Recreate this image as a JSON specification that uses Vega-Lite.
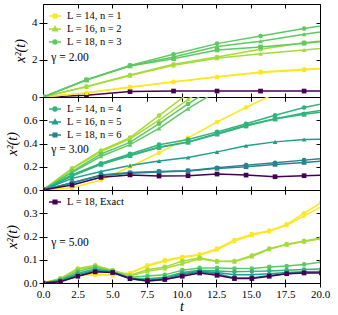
{
"$schema":"https://vega.github.io/schema/vega-lite/v6.json",
"padding":{"left":5,"top":3,"right":5,"bottom":0},
"bounds":"flush",
"datasets":{
"ser":[
{"s":"n1a","c":"L = 14, n = 1","L":"14"},{"s":"n1b","c":"L = 14, n = 1","L":"16"},
{"s":"n2a","c":"L = 16, n = 2","L":"14"},{"s":"n2b","c":"L = 16, n = 2","L":"16"},
{"s":"n3a","c":"L = 18, n = 3","L":"14"},{"s":"n3b","c":"L = 18, n = 3","L":"16"},{"s":"n3c","c":"L = 18, n = 3","L":"18"},
{"s":"n4a","c":"L = 14, n = 4","L":"14"},{"s":"n4b","c":"L = 14, n = 4","L":"16"},{"s":"n4c","c":"L = 14, n = 4","L":"18"},
{"s":"n5a","c":"L = 16, n = 5","L":"16"},
{"s":"n6a","c":"L = 18, n = 6","L":"14"},{"s":"n6b","c":"L = 18, n = 6","L":"18"},
{"s":"ex","c":"L = 18, Exact","L":"18"}],
"pts":[
{"g":2,"s":"ex","t":0,"v":0},{"g":2,"s":"ex","t":3.142,"v":0.09},{"g":2,"s":"ex","t":6.283,"v":0.29},{"g":2,"s":"ex","t":9.425,"v":0.32},{"g":2,"s":"ex","t":12.566,"v":0.32},{"g":2,"s":"ex","t":15.708,"v":0.32},{"g":2,"s":"ex","t":18.85,"v":0.32},{"g":2,"s":"ex","t":21.991,"v":0.33},
{"g":2,"s":"n1a","t":0,"v":0},{"g":2,"s":"n1a","t":3.142,"v":0.23},{"g":2,"s":"n1a","t":6.283,"v":0.54},{"g":2,"s":"n1a","t":9.425,"v":0.82},{"g":2,"s":"n1a","t":12.566,"v":1.09},{"g":2,"s":"n1a","t":15.708,"v":1.35},{"g":2,"s":"n1a","t":18.85,"v":1.49},{"g":2,"s":"n1a","t":21.991,"v":1.65},
{"g":2,"s":"n1b","t":0,"v":0},{"g":2,"s":"n1b","t":3.142,"v":0.22},{"g":2,"s":"n1b","t":6.283,"v":0.52},{"g":2,"s":"n1b","t":9.425,"v":0.8},{"g":2,"s":"n1b","t":12.566,"v":1.07},{"g":2,"s":"n1b","t":15.708,"v":1.32},{"g":2,"s":"n1b","t":18.85,"v":1.45},{"g":2,"s":"n1b","t":21.991,"v":1.62},
{"g":2,"s":"n2a","t":0,"v":0},{"g":2,"s":"n2a","t":3.142,"v":0.56},{"g":2,"s":"n2a","t":6.283,"v":1.18},{"g":2,"s":"n2a","t":9.425,"v":1.76},{"g":2,"s":"n2a","t":12.566,"v":2.15},{"g":2,"s":"n2a","t":15.708,"v":2.57},{"g":2,"s":"n2a","t":18.85,"v":2.92},{"g":2,"s":"n2a","t":21.991,"v":3.15},
{"g":2,"s":"n2b","t":0,"v":0},{"g":2,"s":"n2b","t":3.142,"v":0.55},{"g":2,"s":"n2b","t":6.283,"v":1.15},{"g":2,"s":"n2b","t":9.425,"v":1.7},{"g":2,"s":"n2b","t":12.566,"v":2.08},{"g":2,"s":"n2b","t":15.708,"v":2.33},{"g":2,"s":"n2b","t":18.85,"v":2.53},{"g":2,"s":"n2b","t":21.991,"v":2.75},
{"g":2,"s":"n3a","t":0,"v":0},{"g":2,"s":"n3a","t":3.142,"v":0.93},{"g":2,"s":"n3a","t":6.283,"v":1.7},{"g":2,"s":"n3a","t":9.425,"v":2.3},{"g":2,"s":"n3a","t":12.566,"v":2.87},{"g":2,"s":"n3a","t":15.708,"v":3.28},{"g":2,"s":"n3a","t":18.85,"v":3.68},{"g":2,"s":"n3a","t":21.991,"v":4.05},
{"g":2,"s":"n3b","t":0,"v":0},{"g":2,"s":"n3b","t":3.142,"v":0.92},{"g":2,"s":"n3b","t":6.283,"v":1.68},{"g":2,"s":"n3b","t":9.425,"v":2.15},{"g":2,"s":"n3b","t":12.566,"v":2.71},{"g":2,"s":"n3b","t":15.708,"v":3.0},{"g":2,"s":"n3b","t":18.85,"v":3.37},{"g":2,"s":"n3b","t":21.991,"v":3.7},
{"g":2,"s":"n3c","t":0,"v":0},{"g":2,"s":"n3c","t":3.142,"v":0.91},{"g":2,"s":"n3c","t":6.283,"v":1.67},{"g":2,"s":"n3c","t":9.425,"v":2.06},{"g":2,"s":"n3c","t":12.566,"v":2.53},{"g":2,"s":"n3c","t":15.708,"v":2.69},{"g":2,"s":"n3c","t":18.85,"v":2.89},{"g":2,"s":"n3c","t":21.991,"v":3.1},

{"g":3,"s":"n1a","t":0,"v":0},{"g":3,"s":"n1a","t":2.094,"v":0.02},{"g":3,"s":"n1a","t":4.189,"v":0.086},{"g":3,"s":"n1a","t":6.283,"v":0.2},{"g":3,"s":"n1a","t":8.378,"v":0.32},{"g":3,"s":"n1a","t":10.472,"v":0.448},{"g":3,"s":"n1a","t":12.566,"v":0.585},{"g":3,"s":"n1a","t":14.661,"v":0.71},{"g":3,"s":"n1a","t":16.755,"v":0.83},{"g":3,"s":"n1a","t":18.85,"v":0.95},
{"g":3,"s":"n2a","t":0,"v":0},{"g":3,"s":"n2a","t":2.094,"v":0.186},{"g":3,"s":"n2a","t":4.189,"v":0.34},{"g":3,"s":"n2a","t":6.283,"v":0.45},{"g":3,"s":"n2a","t":8.378,"v":0.64},{"g":3,"s":"n2a","t":10.472,"v":0.83},{"g":3,"s":"n2a","t":12.566,"v":1.0},
{"g":3,"s":"n2b","t":0,"v":0},{"g":3,"s":"n2b","t":2.094,"v":0.18},{"g":3,"s":"n2b","t":4.189,"v":0.33},{"g":3,"s":"n2b","t":6.283,"v":0.44},{"g":3,"s":"n2b","t":8.378,"v":0.6},{"g":3,"s":"n2b","t":10.472,"v":0.78},{"g":3,"s":"n2b","t":12.566,"v":0.95},
{"g":3,"s":"n3a","t":0,"v":0},{"g":3,"s":"n3a","t":2.094,"v":0.158},{"g":3,"s":"n3a","t":4.189,"v":0.31},{"g":3,"s":"n3a","t":6.283,"v":0.41},{"g":3,"s":"n3a","t":8.378,"v":0.57},{"g":3,"s":"n3a","t":10.472,"v":0.74},{"g":3,"s":"n3a","t":12.566,"v":0.9},
{"g":3,"s":"n3b","t":0,"v":0},{"g":3,"s":"n3b","t":2.094,"v":0.15},{"g":3,"s":"n3b","t":4.189,"v":0.29},{"g":3,"s":"n3b","t":6.283,"v":0.39},{"g":3,"s":"n3b","t":8.378,"v":0.53},{"g":3,"s":"n3b","t":10.472,"v":0.7},{"g":3,"s":"n3b","t":12.566,"v":0.85},
{"g":3,"s":"n4a","t":0,"v":0},{"g":3,"s":"n4a","t":2.094,"v":0.13},{"g":3,"s":"n4a","t":4.189,"v":0.23},{"g":3,"s":"n4a","t":6.283,"v":0.31},{"g":3,"s":"n4a","t":8.378,"v":0.39},{"g":3,"s":"n4a","t":10.472,"v":0.434},{"g":3,"s":"n4a","t":12.566,"v":0.5},{"g":3,"s":"n4a","t":14.661,"v":0.57},{"g":3,"s":"n4a","t":16.755,"v":0.643},{"g":3,"s":"n4a","t":18.85,"v":0.709},{"g":3,"s":"n4a","t":20.944,"v":0.76},
{"g":3,"s":"n4b","t":0,"v":0},{"g":3,"s":"n4b","t":2.094,"v":0.125},{"g":3,"s":"n4b","t":4.189,"v":0.225},{"g":3,"s":"n4b","t":6.283,"v":0.3},{"g":3,"s":"n4b","t":8.378,"v":0.37},{"g":3,"s":"n4b","t":10.472,"v":0.414},{"g":3,"s":"n4b","t":12.566,"v":0.486},{"g":3,"s":"n4b","t":14.661,"v":0.557},{"g":3,"s":"n4b","t":16.755,"v":0.614},{"g":3,"s":"n4b","t":18.85,"v":0.663},{"g":3,"s":"n4b","t":20.944,"v":0.7},
{"g":3,"s":"n4c","t":0,"v":0},{"g":3,"s":"n4c","t":2.094,"v":0.12},{"g":3,"s":"n4c","t":4.189,"v":0.22},{"g":3,"s":"n4c","t":6.283,"v":0.295},{"g":3,"s":"n4c","t":8.378,"v":0.365},{"g":3,"s":"n4c","t":10.472,"v":0.41},{"g":3,"s":"n4c","t":12.566,"v":0.48},{"g":3,"s":"n4c","t":14.661,"v":0.55},{"g":3,"s":"n4c","t":16.755,"v":0.61},{"g":3,"s":"n4c","t":18.85,"v":0.651},{"g":3,"s":"n4c","t":20.944,"v":0.685},
{"g":3,"s":"n5a","t":0,"v":0},{"g":3,"s":"n5a","t":2.094,"v":0.1},{"g":3,"s":"n5a","t":4.189,"v":0.16},{"g":3,"s":"n5a","t":6.283,"v":0.21},{"g":3,"s":"n5a","t":8.378,"v":0.25},{"g":3,"s":"n5a","t":10.472,"v":0.28},{"g":3,"s":"n5a","t":12.566,"v":0.328},{"g":3,"s":"n5a","t":14.661,"v":0.38},{"g":3,"s":"n5a","t":16.755,"v":0.414},{"g":3,"s":"n5a","t":18.85,"v":0.434},{"g":3,"s":"n5a","t":20.944,"v":0.44},
{"g":3,"s":"n6a","t":0,"v":0},{"g":3,"s":"n6a","t":2.094,"v":0.063},{"g":3,"s":"n6a","t":4.189,"v":0.13},{"g":3,"s":"n6a","t":6.283,"v":0.15},{"g":3,"s":"n6a","t":8.378,"v":0.16},{"g":3,"s":"n6a","t":10.472,"v":0.166},{"g":3,"s":"n6a","t":12.566,"v":0.191},{"g":3,"s":"n6a","t":14.661,"v":0.214},{"g":3,"s":"n6a","t":16.755,"v":0.234},{"g":3,"s":"n6a","t":18.85,"v":0.257},{"g":3,"s":"n6a","t":20.944,"v":0.28},
{"g":3,"s":"n6b","t":0,"v":0},{"g":3,"s":"n6b","t":2.094,"v":0.06},{"g":3,"s":"n6b","t":4.189,"v":0.125},{"g":3,"s":"n6b","t":6.283,"v":0.145},{"g":3,"s":"n6b","t":8.378,"v":0.155},{"g":3,"s":"n6b","t":10.472,"v":0.163},{"g":3,"s":"n6b","t":12.566,"v":0.186},{"g":3,"s":"n6b","t":14.661,"v":0.2},{"g":3,"s":"n6b","t":16.755,"v":0.22},{"g":3,"s":"n6b","t":18.85,"v":0.237},{"g":3,"s":"n6b","t":20.944,"v":0.255},
{"g":3,"s":"ex","t":0,"v":0},{"g":3,"s":"ex","t":2.094,"v":0.043},{"g":3,"s":"ex","t":4.189,"v":0.109},{"g":3,"s":"ex","t":6.283,"v":0.13},{"g":3,"s":"ex","t":8.378,"v":0.12},{"g":3,"s":"ex","t":10.472,"v":0.123},{"g":3,"s":"ex","t":12.566,"v":0.137},{"g":3,"s":"ex","t":14.661,"v":0.128},{"g":3,"s":"ex","t":16.755,"v":0.114},{"g":3,"s":"ex","t":18.85,"v":0.123},{"g":3,"s":"ex","t":20.944,"v":0.13},

{"g":5,"s":"n1a","t":0,"v":0},{"g":5,"s":"n1a","t":1.257,"v":0.01},{"g":5,"s":"n1a","t":2.513,"v":0.035},{"g":5,"s":"n1a","t":3.77,"v":0.038},{"g":5,"s":"n1a","t":5.027,"v":0.035},{"g":5,"s":"n1a","t":6.283,"v":0.043},{"g":5,"s":"n1a","t":7.54,"v":0.076},{"g":5,"s":"n1a","t":8.796,"v":0.098},{"g":5,"s":"n1a","t":10.053,"v":0.113},{"g":5,"s":"n1a","t":11.31,"v":0.123},{"g":5,"s":"n1a","t":12.566,"v":0.148},{"g":5,"s":"n1a","t":13.823,"v":0.185},{"g":5,"s":"n1a","t":15.08,"v":0.21},{"g":5,"s":"n1a","t":16.336,"v":0.225},{"g":5,"s":"n1a","t":17.593,"v":0.252},{"g":5,"s":"n1a","t":18.85,"v":0.3},{"g":5,"s":"n1a","t":20.106,"v":0.347},
{"g":5,"s":"n1b","t":0,"v":0},{"g":5,"s":"n1b","t":1.257,"v":0.01},{"g":5,"s":"n1b","t":2.513,"v":0.033},{"g":5,"s":"n1b","t":3.77,"v":0.036},{"g":5,"s":"n1b","t":5.027,"v":0.034},{"g":5,"s":"n1b","t":6.283,"v":0.042},{"g":5,"s":"n1b","t":7.54,"v":0.072},{"g":5,"s":"n1b","t":8.796,"v":0.094},{"g":5,"s":"n1b","t":10.053,"v":0.11},{"g":5,"s":"n1b","t":11.31,"v":0.12},{"g":5,"s":"n1b","t":12.566,"v":0.143},{"g":5,"s":"n1b","t":13.823,"v":0.18},{"g":5,"s":"n1b","t":15.08,"v":0.205},{"g":5,"s":"n1b","t":16.336,"v":0.222},{"g":5,"s":"n1b","t":17.593,"v":0.248},{"g":5,"s":"n1b","t":18.85,"v":0.289},{"g":5,"s":"n1b","t":20.106,"v":0.328},
{"g":5,"s":"n2a","t":0,"v":0},{"g":5,"s":"n2a","t":1.257,"v":0.02},{"g":5,"s":"n2a","t":2.513,"v":0.062},{"g":5,"s":"n2a","t":3.77,"v":0.076},{"g":5,"s":"n2a","t":5.027,"v":0.055},{"g":5,"s":"n2a","t":6.283,"v":0.033},{"g":5,"s":"n2a","t":7.54,"v":0.057},{"g":5,"s":"n2a","t":8.796,"v":0.069},{"g":5,"s":"n2a","t":10.053,"v":0.094},{"g":5,"s":"n2a","t":11.31,"v":0.109},{"g":5,"s":"n2a","t":12.566,"v":0.094},{"g":5,"s":"n2a","t":13.823,"v":0.094},{"g":5,"s":"n2a","t":15.08,"v":0.118},{"g":5,"s":"n2a","t":16.336,"v":0.148},{"g":5,"s":"n2a","t":17.593,"v":0.167},{"g":5,"s":"n2a","t":18.85,"v":0.181},{"g":5,"s":"n2a","t":20.106,"v":0.195},
{"g":5,"s":"n2b","t":0,"v":0},{"g":5,"s":"n2b","t":1.257,"v":0.018},{"g":5,"s":"n2b","t":2.513,"v":0.058},{"g":5,"s":"n2b","t":3.77,"v":0.072},{"g":5,"s":"n2b","t":5.027,"v":0.053},{"g":5,"s":"n2b","t":6.283,"v":0.03},{"g":5,"s":"n2b","t":7.54,"v":0.05},{"g":5,"s":"n2b","t":8.796,"v":0.062},{"g":5,"s":"n2b","t":10.053,"v":0.083},{"g":5,"s":"n2b","t":11.31,"v":0.104},{"g":5,"s":"n2b","t":12.566,"v":0.092},{"g":5,"s":"n2b","t":13.823,"v":0.092},{"g":5,"s":"n2b","t":15.08,"v":0.114},{"g":5,"s":"n2b","t":16.336,"v":0.145},{"g":5,"s":"n2b","t":17.593,"v":0.165},{"g":5,"s":"n2b","t":18.85,"v":0.178},{"g":5,"s":"n2b","t":20.106,"v":0.19},
{"g":5,"s":"n3a","t":0,"v":0},{"g":5,"s":"n3a","t":1.257,"v":0.015},{"g":5,"s":"n3a","t":2.513,"v":0.05},{"g":5,"s":"n3a","t":3.77,"v":0.068},{"g":5,"s":"n3a","t":5.027,"v":0.05},{"g":5,"s":"n3a","t":6.283,"v":0.025},{"g":5,"s":"n3a","t":7.54,"v":0.03},{"g":5,"s":"n3a","t":8.796,"v":0.035},{"g":5,"s":"n3a","t":10.053,"v":0.055},{"g":5,"s":"n3a","t":11.31,"v":0.065},{"g":5,"s":"n3a","t":12.566,"v":0.065},{"g":5,"s":"n3a","t":13.823,"v":0.062},{"g":5,"s":"n3a","t":15.08,"v":0.062},{"g":5,"s":"n3a","t":16.336,"v":0.069},{"g":5,"s":"n3a","t":17.593,"v":0.073},{"g":5,"s":"n3a","t":18.85,"v":0.08},{"g":5,"s":"n3a","t":20.106,"v":0.09},
{"g":5,"s":"n4a","t":0,"v":0},{"g":5,"s":"n4a","t":1.257,"v":0.012},{"g":5,"s":"n4a","t":2.513,"v":0.042},{"g":5,"s":"n4a","t":3.77,"v":0.06},{"g":5,"s":"n4a","t":5.027,"v":0.048},{"g":5,"s":"n4a","t":6.283,"v":0.02},{"g":5,"s":"n4a","t":7.54,"v":0.018},{"g":5,"s":"n4a","t":8.796,"v":0.025},{"g":5,"s":"n4a","t":10.053,"v":0.045},{"g":5,"s":"n4a","t":11.31,"v":0.055},{"g":5,"s":"n4a","t":12.566,"v":0.052},{"g":5,"s":"n4a","t":13.823,"v":0.048},{"g":5,"s":"n4a","t":15.08,"v":0.05},{"g":5,"s":"n4a","t":16.336,"v":0.052},{"g":5,"s":"n4a","t":17.593,"v":0.055},{"g":5,"s":"n4a","t":18.85,"v":0.058},{"g":5,"s":"n4a","t":20.106,"v":0.06},
{"g":5,"s":"n5a","t":0,"v":0},{"g":5,"s":"n5a","t":1.257,"v":0.01},{"g":5,"s":"n5a","t":2.513,"v":0.036},{"g":5,"s":"n5a","t":3.77,"v":0.055},{"g":5,"s":"n5a","t":5.027,"v":0.047},{"g":5,"s":"n5a","t":6.283,"v":0.018},{"g":5,"s":"n5a","t":7.54,"v":0.012},{"g":5,"s":"n5a","t":8.796,"v":0.02},{"g":5,"s":"n5a","t":10.053,"v":0.04},{"g":5,"s":"n5a","t":11.31,"v":0.05},{"g":5,"s":"n5a","t":12.566,"v":0.045},{"g":5,"s":"n5a","t":13.823,"v":0.035},{"g":5,"s":"n5a","t":15.08,"v":0.035},{"g":5,"s":"n5a","t":16.336,"v":0.04},{"g":5,"s":"n5a","t":17.593,"v":0.045},{"g":5,"s":"n5a","t":18.85,"v":0.048},{"g":5,"s":"n5a","t":20.106,"v":0.05},
{"g":5,"s":"n6a","t":0,"v":0},{"g":5,"s":"n6a","t":1.257,"v":0.008},{"g":5,"s":"n6a","t":2.513,"v":0.03},{"g":5,"s":"n6a","t":3.77,"v":0.05},{"g":5,"s":"n6a","t":5.027,"v":0.045},{"g":5,"s":"n6a","t":6.283,"v":0.018},{"g":5,"s":"n6a","t":7.54,"v":0.008},{"g":5,"s":"n6a","t":8.796,"v":0.015},{"g":5,"s":"n6a","t":10.053,"v":0.035},{"g":5,"s":"n6a","t":11.31,"v":0.047},{"g":5,"s":"n6a","t":12.566,"v":0.04},{"g":5,"s":"n6a","t":13.823,"v":0.022},{"g":5,"s":"n6a","t":15.08,"v":0.022},{"g":5,"s":"n6a","t":16.336,"v":0.032},{"g":5,"s":"n6a","t":17.593,"v":0.04},{"g":5,"s":"n6a","t":18.85,"v":0.045},{"g":5,"s":"n6a","t":20.106,"v":0.047},
{"g":5,"s":"ex","t":0,"v":0},{"g":5,"s":"ex","t":1.257,"v":0.005},{"g":5,"s":"ex","t":2.513,"v":0.029},{"g":5,"s":"ex","t":3.77,"v":0.048},{"g":5,"s":"ex","t":5.027,"v":0.045},{"g":5,"s":"ex","t":6.283,"v":0.019},{"g":5,"s":"ex","t":7.54,"v":0.01},{"g":5,"s":"ex","t":8.796,"v":0.015},{"g":5,"s":"ex","t":10.053,"v":0.029},{"g":5,"s":"ex","t":11.31,"v":0.043},{"g":5,"s":"ex","t":12.566,"v":0.033},{"g":5,"s":"ex","t":13.823,"v":0.019},{"g":5,"s":"ex","t":15.08,"v":0.019},{"g":5,"s":"ex","t":16.336,"v":0.029},{"g":5,"s":"ex","t":17.593,"v":0.04},{"g":5,"s":"ex","t":18.85,"v":0.043},{"g":5,"s":"ex","t":20.106,"v":0.043}
]},
"data":{"name":"pts"},
"transform":[{"lookup":"s","from":{"data":{"name":"ser"},"key":"s","fields":["c","L"]}}],
"config":{
"view":{"stroke":null},
"axis":{"grid":false,"domainColor":"#000","tickColor":"#000","labelColor":"#000","labelFont":"Liberation Serif","labelFontSize":11,"titleFont":"Liberation Serif","titleFontSize":14,"titleFontWeight":"normal","titleFontStyle":"italic","titleColor":"#000","tickSize":4,"domainWidth":1,"tickWidth":1,"labelPadding":2,"labelFlush":false,"labelOverlap":false},
"legend":{"title":null,"orient":"top-left","offset":5,"padding":0,"labelFont":"Liberation Serif","labelFontSize":10.5,"labelColor":"#000","symbolSize":144,"symbolStrokeWidth":1.5,"rowPadding":0,"labelOffset":5}
},
"spacing":0,
"resolve":{"legend":{"color":"independent"}},
"vconcat":[
{"width":277,"height":93,
"layer":[
{"transform":[{"filter":"datum.g==2"}],"mark":{"type":"line","clip":true,"strokeWidth":1.5},
"encoding":{
"x":{"field":"t","type":"quantitative","scale":{"domain":[0,20],"nice":false,"zero":false},"axis":{"orient":"bottom","values":[0,2.5,5,7.5,10,12.5,15,17.5,20],"labels":false,"title":null}},
"y":{"field":"v","type":"quantitative","scale":{"domain":[0,5],"nice":false},"axis":{"orient":"left","values":[0,2,4],"format":"d","title":"x²(t)"}},
"color":{"field":"c","type":"nominal","scale":{"domain":["L = 14, n = 1","L = 16, n = 2","L = 18, n = 3","L = 14, n = 4","L = 16, n = 5","L = 18, n = 6","L = 18, Exact"],"range":["#fde725","#a5db36","#5ec962","#2fb47c","#1f9e89","#25848e","#440154"]},
"legend":{"values":["L = 14, n = 1","L = 16, n = 2","L = 18, n = 3"],"encode":{"symbols":{"update":{"shape":{"signal":"(datum.value=='L = 16, n = 2'||datum.value=='L = 16, n = 5')?'M-1,0H1M0,-0.38L0.38,0.3H-0.38Z':((datum.value=='L = 18, n = 3'||datum.value=='L = 14, n = 4')?'M-1,0H1M-0.32,0A0.32,0.32,0,1,0,0.32,0A0.32,0.32,0,1,0,-0.32,0Z':'M-1,0H1M-0.3,-0.3H0.3V0.3H-0.3Z')"},"fill":{"scale":"color","field":"value"},"stroke":{"scale":"color","field":"value"},"opacity":{"value":1}}}}}},
"detail":{"field":"s"}}},
{"transform":[{"filter":"datum.g==2"}],"mark":{"type":"point","filled":true,"opacity":1,"size":22,"clip":true},
"encoding":{"x":{"field":"t","type":"quantitative","axis":{"orient":"bottom","values":[0,2.5,5,7.5,10,12.5,15,17.5,20],"labels":false,"title":null,"domain":false,"tickSize":-4}},"y":{"field":"v","type":"quantitative","axis":{"orient":"left","values":[0,2,4],"labels":false,"title":null,"domain":false,"tickSize":-4}},"color":{"field":"c","type":"nominal"},"shape":{"field":"L","type":"nominal","scale":{"domain":["14","16","18"],"range":["circle","triangle-up","square"]},"legend":null},"detail":{"field":"s"}}},
{"data":{"values":[{"t":0.6,"v":2.1,"txt":"γ = 2.00"}]},"mark":{"type":"text","align":"left","baseline":"middle","font":"Liberation Serif","fontSize":11.5,"color":"#000"},
"encoding":{"x":{"field":"t","type":"quantitative","axis":{"orient":"top","values":[0,2.5,5,7.5,10,12.5,15,17.5,20],"labels":false,"title":null,"tickSize":-4}},"y":{"field":"v","type":"quantitative","axis":{"orient":"right","values":[0,2,4],"labels":false,"title":null,"tickSize":-4}},"text":{"field":"txt"}}}
],
"resolve":{"axis":{"x":"independent","y":"independent"}}},
{"width":277,"height":93,
"layer":[
{"transform":[{"filter":"datum.g==3"}],"mark":{"type":"line","clip":true,"strokeWidth":1.5},
"encoding":{
"x":{"field":"t","type":"quantitative","scale":{"domain":[0,20],"nice":false,"zero":false},"axis":{"orient":"bottom","values":[0,2.5,5,7.5,10,12.5,15,17.5,20],"labels":false,"title":null}},
"y":{"field":"v","type":"quantitative","scale":{"domain":[0,0.8],"nice":false},"axis":{"orient":"left","values":[0,0.2,0.4,0.6],"format":".1f","title":"x²(t)"}},
"color":{"field":"c","type":"nominal",
"legend":{"values":["L = 14, n = 4","L = 16, n = 5","L = 18, n = 6"],"encode":{"symbols":{"update":{"shape":{"signal":"(datum.value=='L = 16, n = 2'||datum.value=='L = 16, n = 5')?'M-1,0H1M0,-0.38L0.38,0.3H-0.38Z':((datum.value=='L = 18, n = 3'||datum.value=='L = 14, n = 4')?'M-1,0H1M-0.32,0A0.32,0.32,0,1,0,0.32,0A0.32,0.32,0,1,0,-0.32,0Z':'M-1,0H1M-0.3,-0.3H0.3V0.3H-0.3Z')"},"fill":{"scale":"color","field":"value"},"stroke":{"scale":"color","field":"value"},"opacity":{"value":1}}}}}},
"detail":{"field":"s"}}},
{"transform":[{"filter":"datum.g==3"}],"mark":{"type":"point","filled":true,"opacity":1,"size":22,"clip":true},
"encoding":{"x":{"field":"t","type":"quantitative","axis":{"orient":"bottom","values":[0,2.5,5,7.5,10,12.5,15,17.5,20],"labels":false,"title":null,"domain":false,"tickSize":-4}},"y":{"field":"v","type":"quantitative","axis":{"orient":"left","values":[0,0.2,0.4,0.6],"labels":false,"title":null,"domain":false,"tickSize":-4}},"color":{"field":"c","type":"nominal"},"shape":{"field":"L","type":"nominal","legend":null},"detail":{"field":"s"}}},
{"data":{"values":[{"t":0.6,"v":0.345,"txt":"γ = 3.00"}]},"mark":{"type":"text","align":"left","baseline":"middle","font":"Liberation Serif","fontSize":11.5,"color":"#000"},
"encoding":{"x":{"field":"t","type":"quantitative","axis":{"orient":"top","values":[0,2.5,5,7.5,10,12.5,15,17.5,20],"labels":false,"title":null,"tickSize":-4}},"y":{"field":"v","type":"quantitative","axis":{"orient":"right","values":[0,0.2,0.4,0.6],"labels":false,"title":null,"tickSize":-4}},"text":{"field":"txt"}}}
],
"resolve":{"axis":{"x":"independent","y":"independent"}}},
{"width":277,"height":93,
"layer":[
{"transform":[{"filter":"datum.g==5"}],"mark":{"type":"line","clip":true,"strokeWidth":1.5},
"encoding":{
"x":{"field":"t","type":"quantitative","scale":{"domain":[0,20],"nice":false,"zero":false},"axis":{"orient":"bottom","values":[0,2.5,5,7.5,10,12.5,15,17.5,20],"format":".1f","title":"t","titlePadding":0,"labelPadding":1}},
"y":{"field":"v","type":"quantitative","scale":{"domain":[0,0.4],"nice":false},"axis":{"orient":"left","values":[0,0.1,0.2,0.3],"format":".1f","title":"x²(t)"}},
"color":{"field":"c","type":"nominal",
"legend":{"values":["L = 18, Exact"],"encode":{"symbols":{"update":{"shape":{"value":"M-1,0H1M-0.3,-0.3H0.3V0.3H-0.3Z"},"fill":{"scale":"color","field":"value"},"stroke":{"scale":"color","field":"value"},"opacity":{"value":1}}}}}},
"detail":{"field":"s"}}},
{"transform":[{"filter":"datum.g==5"}],"mark":{"type":"point","filled":true,"opacity":1,"size":22,"clip":true},
"encoding":{"x":{"field":"t","type":"quantitative","axis":{"orient":"bottom","values":[0,2.5,5,7.5,10,12.5,15,17.5,20],"labels":false,"title":null,"domain":false,"tickSize":-4}},"y":{"field":"v","type":"quantitative","axis":{"orient":"left","values":[0,0.1,0.2,0.3],"labels":false,"title":null,"domain":false,"tickSize":-4}},"color":{"field":"c","type":"nominal"},"shape":{"field":"L","type":"nominal","legend":null},"detail":{"field":"s"}}},
{"data":{"values":[{"t":0.6,"v":0.172,"txt":"γ = 5.00"}]},"mark":{"type":"text","align":"left","baseline":"middle","font":"Liberation Serif","fontSize":11.5,"color":"#000"},
"encoding":{"x":{"field":"t","type":"quantitative","axis":{"orient":"top","values":[0,2.5,5,7.5,10,12.5,15,17.5,20],"labels":false,"title":null,"tickSize":-4}},"y":{"field":"v","type":"quantitative","axis":{"orient":"right","values":[0,0.1,0.2,0.3],"labels":false,"title":null,"tickSize":-4}},"text":{"field":"txt"}}}
],
"resolve":{"axis":{"x":"independent","y":"independent"}}}
]
}
